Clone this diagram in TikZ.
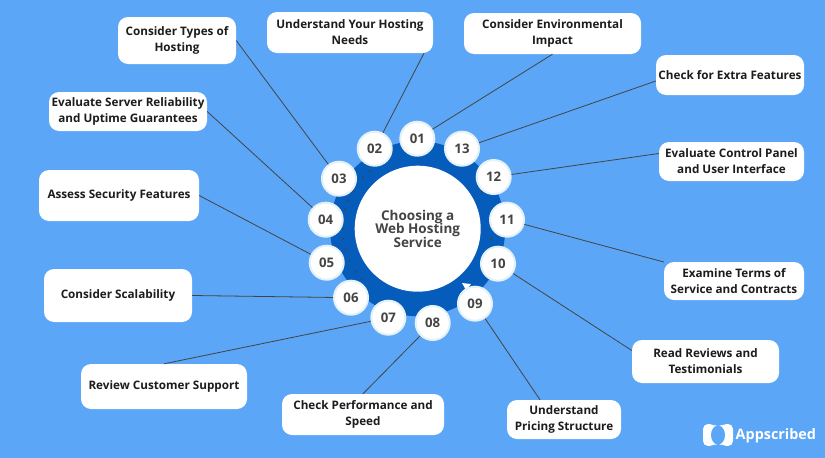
\documentclass[tikz,border=0pt]{standalone}
\usepackage{fontspec}
\setmainfont{Open Sans}
\definecolor{skyback}{HTML}{5BA6F7}
\definecolor{ringblue}{HTML}{055CBA}
\definecolor{palering}{HTML}{E4F1F8}
\definecolor{numgray}{HTML}{444444}
\definecolor{inkdark}{HTML}{1C1C1C}
\tikzset{
  stepbox/.style={draw=none, fill=white, rounded corners=10pt, align=center, inner sep=0pt, text=inkdark,
    font=\fontsize{11.7}{16}\selectfont\bfseries, execute at begin node={\vspace*{3pt}}},
  numdisc/.style={circle, fill=white, draw=palering, line width=2pt, minimum size=34pt, inner sep=0pt,
    text=numgray, font=\fontsize{13.2}{15}\selectfont\bfseries},
  spoke/.style={draw=numgray, line width=0.8pt},
}
\begin{document}
\begin{tikzpicture}[x=1pt, y=-1pt]
  \useasboundingbox (0,0) rectangle (825,458);
  \fill[skyback] (0,0) rectangle (825,458);
  % ring and hub
  \coordinate (hubc) at (417.7,228.7);
  \fill[ringblue] (hubc) circle (87.5pt);
  \foreach \a in {122,130,137,150,158,165,172,180,188,196,205,215,222} \fill[numgray] (hubc) ++(\a:75pt) circle (1.1pt);
  \foreach \a in {30,36,-8,-16} \fill[numgray] (hubc) ++(\a:74pt) circle (1.1pt);
  \node[circle, fill=white, minimum size=126pt, inner sep=0pt, align=center, text=numgray,
    font=\fontsize{13.5}{13.6}\selectfont\bfseries] (hub) at (hubc) {Choosing a\\Web Hosting\\Service};
  \fill[white] (462,283) -- (471,284) -- (466,290) -- cycle;
  % numbered discs
  \foreach \n/\x/\y in {01/417.3/138.7, 02/374.7/148.7, 03/339/178.7, 04/325.7/219.7, 05/326.7/262.7,
      06/351/297.7, 07/388.3/317.7, 08/432.7/323, 09/475/303.7, 10/498/263.7, 11/507/219.7,
      12/493.7/177, 13/462/148.7}
    \node[numdisc] (n\n) at (\x,\y) {\n};
  % boxes
  \node[stepbox, minimum width=118pt, minimum height=47pt] (types) at (177,40.5) {Consider Types of\\Hosting};
  \node[stepbox, minimum width=166pt, minimum height=41pt] (needs) at (350,32.5) {Understand Your Hosting\\Needs};
  \node[stepbox, minimum width=177pt, minimum height=41pt] (green) at (552.5,33.5) {Consider Environmental\\Impact};
  \node[stepbox, minimum width=148pt, minimum height=40pt] (extra) at (730,75) {Check for Extra Features};
  \node[stepbox, minimum width=145pt, minimum height=39pt] (panel) at (731.5,161.5) {Evaluate Control Panel\\and User Interface};
  \node[stepbox, minimum width=140pt, minimum height=38pt] (terms) at (734,281) {Examine Terms of\\Service and Contracts};
  \node[stepbox, minimum width=147pt, minimum height=43pt] (reviews) at (705.5,361.5) {Read Reviews and\\Testimonials};
  \node[stepbox, minimum width=114pt, minimum height=39pt] (pricing) at (564,419.5) {Understand\\Pricing Structure};
  \node[stepbox, minimum width=162pt, minimum height=41pt] (speed) at (363,414.5) {Check Performance and\\Speed};
  \node[stepbox, minimum width=166pt, minimum height=45pt] (support) at (164,386.5) {Review Customer Support};
  \node[stepbox, minimum width=148pt, minimum height=53pt] (scale) at (118,295.5) {Consider Scalability};
  \node[stepbox, minimum width=160pt, minimum height=51pt] (security) at (119,195.5) {Assess Security Features};
  \node[stepbox, minimum width=158pt, minimum height=39pt] (uptime) at (128,111.5) {Evaluate Server Reliability\\and Uptime Guarantees};
  % connectors
  \draw[spoke] (types.east) -- (n03);
  \draw[spoke] ([xshift=74pt]needs.south) -- (n02);
  \draw[spoke] (green.south) -- (n01);
  \draw[spoke] ([yshift=-6pt]extra.west) -- (n13);
  \draw[spoke] ([yshift=8pt]panel.west) -- (n12);
  \draw[spoke] ([yshift=19pt]terms.west) -- (n11);
  \draw[spoke] ([yshift=11pt]reviews.west) -- (n10);
  \draw[spoke] ([xshift=-24pt]pricing.north) -- (n09);
  \draw[spoke] (speed.north) -- (n08);
  \draw[spoke] (support.north) -- (n07);
  \draw[spoke] (scale.east) -- (n06);
  \draw[spoke] (security.east) -- (n05);
  \draw[spoke] (uptime.east) -- (n04);
  % brand mark
  \node[inner sep=0pt, text=white, font=\fontsize{14.4}{16}\selectfont\bfseries, anchor=west] (brand) at (735.5,435.5) {Appscribed};
  \fill[white, rounded corners=5pt] (703,424) -- (713,424) -- (718,428) -- (723,424) -- (733,424) -- (733,446) -- (723,446) -- (718,442) -- (713,446) -- (703,446) -- cycle;
  \fill[skyback] (718,435) ellipse (7pt and 9.5pt);
\end{tikzpicture}
\end{document}
